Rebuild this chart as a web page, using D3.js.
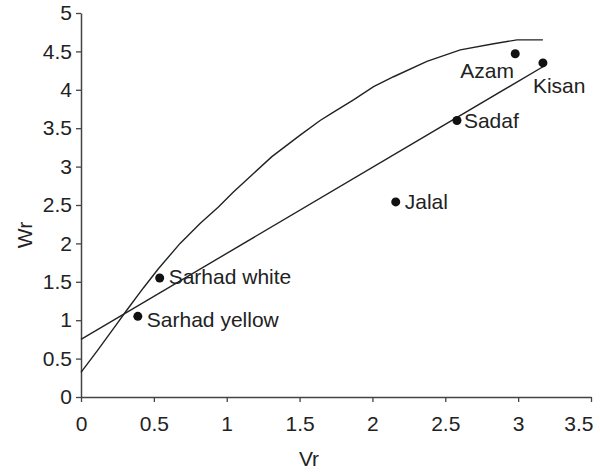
<!DOCTYPE html>
<html>
<head>
<meta charset="utf-8">
<script src="https://cdn.jsdelivr.net/npm/d3@7"></script>
<style>
  body { margin: 0; background: #fff; }
  svg { font-family: "Liberation Sans", Arial, sans-serif; }
</style>
</head>
<body>
<div id="chart"></div>
<script>
// varieties (Vr, Wr)
const varieties = ["Sarhad white", "Sarhad yellow", "Jalal", "Sadaf", "Azam", "Kisan"];
const vrValues = [0.54, 0.39, 2.16, 2.58, 2.98, 3.17];
const wrValues = [1.55, 1.05, 2.54, 3.60, 4.47, 4.35];

// limiting parabola
const parabolaVr = [0, 0.115, 0.245, 0.31, 0.428, 0.531, 0.68, 0.817, 0.943, 1.046, 1.184, 1.31, 1.504, 1.641, 1.733, 1.87, 2.008, 2.145, 2.374, 2.603, 2.832, 2.992, 3.17];
const parabolaWr = [0.32, 0.61, 0.95, 1.12, 1.42, 1.67, 2.0, 2.26, 2.475, 2.67, 2.91, 3.13, 3.41, 3.60, 3.71, 3.87, 4.04, 4.17, 4.37, 4.52, 4.60, 4.65, 4.65];

// regression line end points
const regressionVr = [0, 3.17];
const regressionWr = [0.75, 4.30];

const xTicks = [0, 0.5, 1, 1.5, 2, 2.5, 3, 3.5];
const yTicks = [0, 0.5, 1, 1.5, 2, 2.5, 3, 3.5, 4, 4.5, 5];

const width = 600, height = 474;
const margin = {top: 13, right: 9, bottom: 77, left: 81};

const svg = d3.select("#chart").append("svg")
  .attr("width", width)
  .attr("height", height);

const x = d3.scaleLinear().domain([0, 3.5]).range([margin.left, width - margin.right]);
const y = d3.scaleLinear().domain([0, 5]).range([height - margin.bottom, margin.top]);

const axisColor = "#444";
const fontSize = 21;

// x axis
const xAxis = svg.append("g")
  .attr("transform", `translate(0,${y(0)})`)
  .call(d3.axisBottom(x).tickValues(xTicks).tickSize(5).tickSizeOuter(0)
    .tickFormat(d3.format("")).tickPadding(14));
xAxis.select(".domain").attr("stroke", axisColor).attr("stroke-width", 1.5);
xAxis.selectAll(".tick line").attr("stroke", axisColor).attr("stroke-width", 1.3);
xAxis.selectAll(".tick text").attr("fill", "#222").attr("font-size", fontSize)
  .attr("font-family", "Liberation Sans, Arial, sans-serif");
xAxis.selectAll(".tick text").filter(d => d === 3.5).attr("text-anchor", "end").attr("dx", 2);

// y axis
const yAxis = svg.append("g")
  .attr("transform", `translate(${x(0)},0)`)
  .call(d3.axisLeft(y).tickValues(yTicks).tickSize(5).tickSizeOuter(0)
    .tickFormat(d3.format("")).tickPadding(4));
yAxis.select(".domain").attr("stroke", axisColor).attr("stroke-width", 1.5);
yAxis.selectAll(".tick line").attr("stroke", axisColor).attr("stroke-width", 1.3);
yAxis.selectAll(".tick text").attr("fill", "#222").attr("font-size", fontSize)
  .attr("font-family", "Liberation Sans, Arial, sans-serif");

// axis titles
svg.append("text")
  .attr("x", 309).attr("y", 466)
  .attr("text-anchor", "middle")
  .attr("font-size", fontSize).attr("fill", "#222")
  .text("Vr");
svg.append("text")
  .attr("transform", `translate(32,235) rotate(-90)`)
  .attr("text-anchor", "middle")
  .attr("font-size", fontSize).attr("fill", "#222")
  .text("Wr");

const line = d3.line().x(d => x(d[0])).y(d => y(d[1]));

// parabola
svg.append("path")
  .datum(d3.zip(parabolaVr, parabolaWr))
  .attr("fill", "none")
  .attr("stroke", "#222")
  .attr("stroke-width", 1.4)
  .attr("d", line);

// regression line
svg.append("path")
  .datum(d3.zip(regressionVr, regressionWr))
  .attr("fill", "none")
  .attr("stroke", "#222")
  .attr("stroke-width", 1.4)
  .attr("d", line);

// points
const pts = varieties.map((name, i) => ({name, vr: vrValues[i], wr: wrValues[i]}));
svg.append("g").selectAll("circle")
  .data(pts)
  .join("circle")
    .attr("cx", d => x(d.vr))
    .attr("cy", d => y(d.wr))
    .attr("r", 4.5)
    .attr("fill", "#111");

// labels
const labelOffset = {
  "Sarhad white": [9, 6],
  "Sarhad yellow": [9, 11],
  "Jalal": [9, 7],
  "Sadaf": [7, 7],
  "Azam": [-55, 24],
  "Kisan": [-10, 30]
};
svg.append("g").selectAll("text")
  .data(pts)
  .join("text")
    .attr("x", d => x(d.vr) + labelOffset[d.name][0])
    .attr("y", d => y(d.wr) + labelOffset[d.name][1])
    .attr("font-size", fontSize)
    .attr("fill", "#222")
    .text(d => d.name);
</script>
</body>
</html>
